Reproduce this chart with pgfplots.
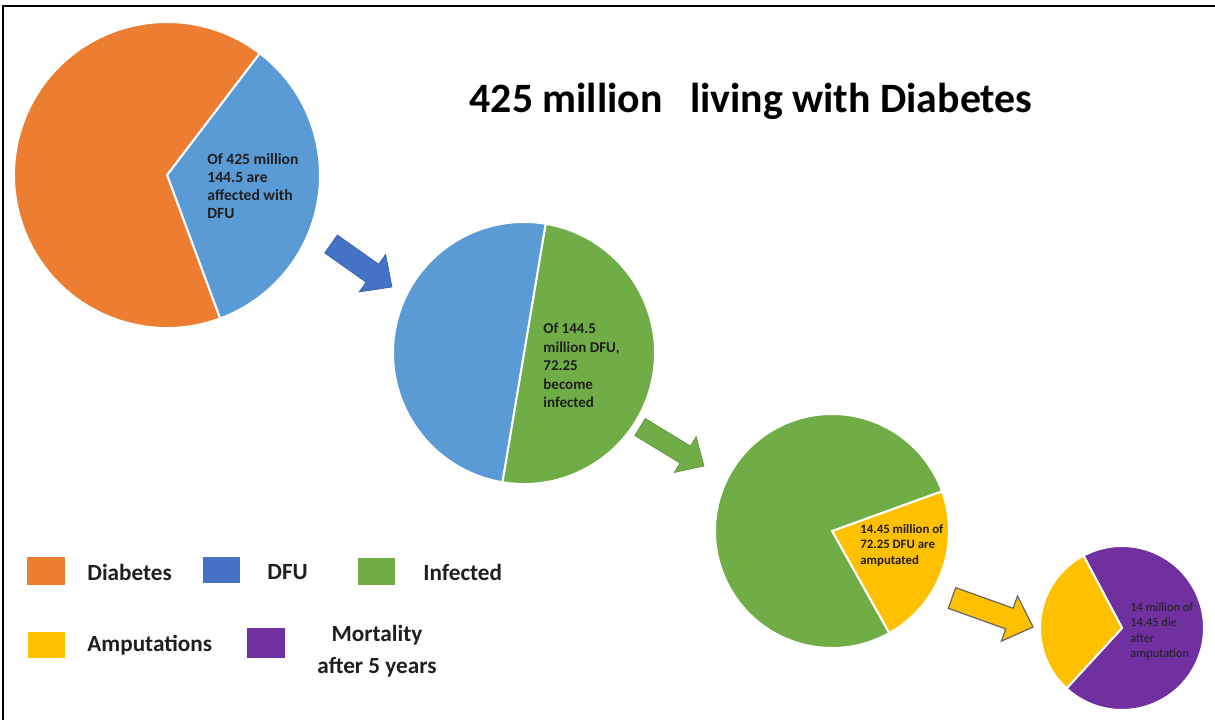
\documentclass[border=0pt]{standalone}
\usepackage{pgfplots}
\pgfplotsset{compat=1.18}
\usepackage{fontspec}
\setmainfont{Carlito}
\usetikzlibrary{calc}
\definecolor{cOrange}{HTML}{ED7D31}
\definecolor{cBlue}{HTML}{5B9BD5}
\definecolor{cBlueD}{HTML}{4472C4}
\definecolor{cGreen}{HTML}{70AD47}
\definecolor{cYellow}{HTML}{FFC000}
\definecolor{cPurple}{HTML}{7030A0}
\definecolor{cText}{HTML}{1F1F1F}

% slice: colour, cx, cy, r (px), start angle, end angle
\newcommand{\slice}[6]{%
  \fill[#1, draw=white, line width=1pt, line join=round] (axis cs:#2,#3) -- ++(#5:#4*0.5pt)
    arc[start angle=#5, end angle=#6, radius=#4*0.5pt] -- cycle;}
% block arrow: style, tail x,y, tip x,y, shaft half width, head half width, head length
\newcommand{\blockarrow}[8]{%
  \coordinate (bT) at (axis cs:#2,#3);
  \coordinate (bH) at (axis cs:#4,#5);
  \coordinate (bB) at ($(bH)!#8!(bT)$);
  \filldraw[#1] ($(bT)!#6!90:(bH)$) -- ($(bB)!#6!90:(bH)$) -- ($(bB)!#7!90:(bH)$) -- (bH)
    -- ($(bB)!#7!-90:(bH)$) -- ($(bB)!#6!-90:(bH)$) -- ($(bT)!#6!-90:(bH)$) -- cycle;}

\begin{document}
\begin{tikzpicture}
% ---- data (millions / shares) ----
% pie 1: Diabetes 425 million, DFU 144.5
\def\dA{144.5}\def\tA{425}
% pie 2: DFU 144.5, Infected 72.25
\def\dB{72.25}\def\tB{144.5}
% pie 3: Infected vs Amputations (share)
\def\dC{22.4}\def\tC{100}
% pie 4: Amputations vs Mortality (share)
\def\dD{69.6}\def\tD{100}
\pgfmathsetmacro{\aS}{52.7}\pgfmathsetmacro{\aM}{\aS-360*(\dA/\tA)}\pgfmathsetmacro{\aE}{\aS-360}
\pgfmathsetmacro{\bS}{80.5}\pgfmathsetmacro{\bM}{\bS-360*(\dB/\tB)}\pgfmathsetmacro{\bE}{\bS-360}
\pgfmathsetmacro{\cS}{19.9}\pgfmathsetmacro{\cM}{\cS-360*(\dC/\tC)}\pgfmathsetmacro{\cE}{\cS-360}
\pgfmathsetmacro{\qS}{118}\pgfmathsetmacro{\qM}{\qS-360*(\dD/\tD)}\pgfmathsetmacro{\qE}{\qS-360}
\begin{axis}[hide axis, scale only axis, width=607.5pt, height=360pt,
  xmin=0, xmax=1215, ymin=0, ymax=720, clip=false]
\coordinate (LL) at (axis cs:0,0);
\coordinate (UR) at (axis cs:1215,720);
% frame
\draw[line width=1pt] (axis cs:3,0) -- (axis cs:3,714) -- (axis cs:1215,714);
% pie 1
\slice{cBlue}{167}{545}{153}{\aS}{\aM}
\slice{cOrange}{167}{545}{153}{\aM}{\aE}
% pie 2
\slice{cGreen}{524}{367}{131}{\bS}{\bM}
\slice{cBlue}{524}{367}{131}{\bM}{\bE}
% pie 3
\slice{cYellow}{832}{189}{117}{\cS}{\cM}
\slice{cGreen}{832}{189}{117}{\cM}{\cE}
% pie 4
\slice{cPurple}{1122}{92}{82}{\qS}{\qM}
\slice{cYellow}{1122}{92}{82}{\qM}{\qE}
% arrows
\blockarrow{fill=cBlueD, draw=cBlueD!80!black, line width=0.3pt}{331}{476}{392}{433}{5.5pt}{11.5pt}{12pt}
\blockarrow{fill=cGreen, draw=cGreen!80!black, line width=0.3pt}{640}{293}{704}{254}{5pt}{10.5pt}{11pt}
\blockarrow{fill=cYellow, draw=gray!80!black, line width=0.6pt}{952}{122}{1033}{93}{5.5pt}{12pt}{12.5pt}
% title
\node[font=\fontsize{20.9}{24}\selectfont\bfseries] at (axis cs:751,619) {425 million\hspace{9pt} living with Diabetes};
% pie texts
\node[anchor=north west, inner sep=0pt, align=left, text=cText,
  font=\fontsize{7.8}{9}\selectfont\bfseries] at (axis cs:207,567)
  {Of 425 million\\144.5 are\\affected with\\DFU};
\node[anchor=north west, inner sep=0pt, align=left, text=cText,
  font=\fontsize{7.5}{9.25}\selectfont\bfseries] at (axis cs:543,397)
  {Of 144.5\\million DFU,\\72.25\\become\\infected};
\node[anchor=north west, inner sep=0pt, align=left, text=cText,
  font=\fontsize{6.4}{7.75}\selectfont\bfseries] at (axis cs:860,196)
  {14.45 million of\\72.25 DFU are\\amputated};
\node[anchor=north west, inner sep=0pt, align=left, text=cText,
  font=\fontsize{6.2}{7.75}\selectfont] at (axis cs:1130,118)
  {14 million of\\14.45 die\\after\\amputation};
% legend
\fill[cOrange] (axis cs:27,135) rectangle (axis cs:65,163);
\fill[cBlueD] (axis cs:203,137) rectangle (axis cs:240,163);
\fill[cGreen] (axis cs:358,135) rectangle (axis cs:395,162);
\fill[cYellow] (axis cs:28,62) rectangle (axis cs:65,88);
\fill[cPurple] (axis cs:247,62) rectangle (axis cs:285,92);
\begin{scope}[every node/.style={font=\fontsize{11.6}{14}\selectfont\bfseries, text=cText, inner sep=0pt}]
\node[anchor=west] at (axis cs:87,148) {Diabetes};
\node[anchor=west] at (axis cs:267,148) {DFU};
\node[anchor=west] at (axis cs:423,148) {Infected};
\node[anchor=west] at (axis cs:87,75) {Amputations};
\node[align=center] at (axis cs:377,69) {Mortality\\[2pt]after 5 years};
\end{scope}
\end{axis}
\pgfresetboundingbox
\path[use as bounding box] (LL) rectangle (UR);
\end{tikzpicture}
\end{document}
